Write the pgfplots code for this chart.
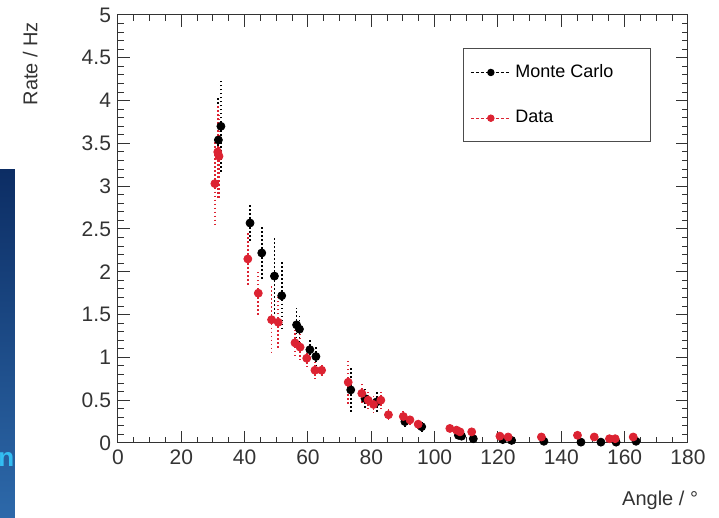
\documentclass[border=0pt]{standalone}
\usepackage{fontspec}
\setmainfont{Liberation Sans}
\usepackage{pgfplots}
\usepackage{pgfplotstable}
\pgfplotsset{compat=1.18}
\definecolor{rootred}{RGB}{220,35,50}
\definecolor{slideblueA}{RGB}{12,45,100}
\definecolor{slideblueB}{RGB}{45,105,170}

\pgfplotstableread{
x y e
32.5 3.70 0.55
31.7 3.54 0.50
41.7 2.57 0.22
45.4 2.22 0.30
49.4 1.95 0.45
51.7 1.72 0.40
56.4 1.38 0.20
57.3 1.33 0.18
60.6 1.09 0.12
62.5 1.01 0.12
73.5 0.62 0.28
78.0 0.52 0.12
81.7 0.48 0.12
90.6 0.25 0.06
95.9 0.19 0.05
107.5 0.09 0.03
108.5 0.08 0.03
112.2 0.05 0.02
121.5 0.04 0.02
124.3 0.03 0.01
134.5 0.02 0.01
146.2 0.01 0.01
152.5 0.01 0.01
157.3 0.01 0.01
163.6 0.02 0.01
}\mc

\pgfplotstableread{
x y e
30.6 3.03 0.50
31.5 3.40 0.55
31.9 3.35 0.50
41.0 2.15 0.30
44.3 1.75 0.25
48.5 1.44 0.40
50.6 1.41 0.30
55.9 1.17 0.15
57.5 1.12 0.15
59.6 0.99 0.10
62.2 0.85 0.10
64.3 0.85 0.08
72.7 0.71 0.25
77.0 0.58 0.12
79.0 0.50 0.10
80.7 0.45 0.10
83.0 0.50 0.10
85.4 0.33 0.07
90.1 0.31 0.06
92.2 0.27 0.05
94.8 0.22 0.05
104.8 0.17 0.04
106.9 0.15 0.03
108.0 0.13 0.03
111.7 0.13 0.03
120.6 0.08 0.02
123.2 0.07 0.02
133.7 0.07 0.02
145.1 0.09 0.02
150.4 0.07 0.02
155.2 0.05 0.02
157.0 0.05 0.02
162.7 0.07 0.02
}\data

\begin{document}
\begin{tikzpicture}
\useasboundingbox (-59pt,-37.5pt) rectangle (300.5pt,221.5pt);
\shade[top color=slideblueA, bottom color=slideblueB] (-59pt,-37.5pt) rectangle (-51.5pt,136.5pt);
\node[anchor=west, text=cyan!80!white, font=\fontsize{13}{13}\selectfont\bfseries, inner sep=0pt] at (-60pt,-8.5pt) {n};
\begin{axis}[
  at={(0pt,0pt)}, anchor=south west,
  scale only axis, width=285pt, height=214pt,
  xmin=0, xmax=180, ymin=0, ymax=5,
  xtick={0,20,...,180}, ytick={0,0.5,1,1.5,2,2.5,3,3.5,4,4.5,5},
  minor x tick num=3, minor y tick num=4,
  tick pos=both, tick align=inside,
  major tick length=6pt, minor tick length=3pt,
  axis line style={black!80, line width=0.5pt},
  every tick/.style={black!80, line width=0.5pt},
  tick label style={font=\fontsize{10.5}{12}\selectfont, text=black!80},
  /pgf/number format/assume math mode=true,
  yticklabel style={/pgf/number format/fixed},
  xlabel={Angle / °}, ylabel={Rate / Hz},
  label style={font=\fontsize{10}{12}\selectfont, text=black!80},
  xlabel style={at={(axis description cs:1.03,-0.134)}, anchor=east},
  ylabel style={at={(axis description cs:-0.154,1)}, anchor=east},
  legend style={at={(rel axis cs:0.605,0.923)}, anchor=north west,
    draw=black!70, line width=0.5pt, fill=white,
    font=\fontsize{9}{11}\selectfont, inner xsep=3.5pt, inner ysep=6pt,
    row sep=11pt},
  legend cell align=left,
]
\addplot+[only marks, mark=*, mark size=2pt, color=black,
  mark options={fill=black, draw=black, solid},
  legend image code/.code={\draw[dash pattern=on 1.5pt off 1pt, line width=0.5pt] (0pt,0pt) -- (20pt,0pt); \fill (10pt,0pt) circle (1.6pt);},
  error bars/.cd, y dir=both, y explicit,
  error bar style={dash pattern=on 0.8pt off 1.2pt, line width=0.9pt}, error mark=none]
  table[x=x, y=y, y error=e] {\mc};
\addlegendentry{\makebox[62pt][l]{Monte Carlo}}
\addplot+[only marks, mark=*, mark size=2pt, color=rootred,
  mark options={fill=rootred, draw=rootred, solid},
  legend image code/.code={\draw[dash pattern=on 1.5pt off 1pt, line width=0.5pt] (0pt,0pt) -- (20pt,0pt); \fill (10pt,0pt) circle (1.6pt);},
  error bars/.cd, y dir=both, y explicit,
  error bar style={dash pattern=on 0.8pt off 1.2pt, line width=0.9pt}, error mark=none]
  table[x=x, y=y, y error=e] {\data};
\addlegendentry{\makebox[62pt][l]{Data}}
\end{axis}
\end{tikzpicture}
\end{document}
